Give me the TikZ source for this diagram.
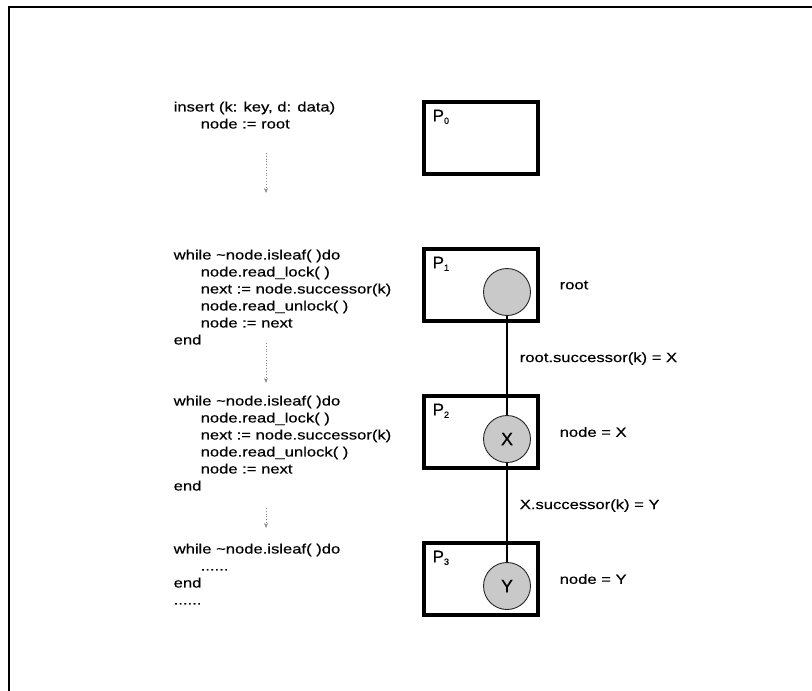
\documentclass[tikz,border=0pt]{standalone}
\usepackage{fontspec}
\setmainfont{Liberation Sans}[FakeStretch=1.23, FakeBold=0.4]
\newfontfamily\plainsans{Liberation Sans}[FakeBold=0.6]
\usetikzlibrary{arrows.meta, positioning, calc}
\definecolor{cstip}{gray}{0.79}
\definecolor{cdot}{gray}{0.55}
\newcommand{\ind}{\hspace*{27pt}}
\tikzset{
  every picture/.style={x=1pt, y=-1pt, line width=1.4pt},
  pbox/.style={draw, line width=4pt, minimum width=114pt, minimum height=72pt, inner sep=0pt},
  plabel/.style={font=\plainsans\fontsize{17}{17}\selectfont, inner sep=0pt, anchor=north west},
  vertex/.style={circle, draw=black!85, line width=0.9pt, fill=cstip, minimum size=47pt, inner sep=0pt, font=\plainsans\fontsize{18}{18}\selectfont},
  link/.style={draw, line width=1.6pt},
  code/.style={font=\fontsize{13.5}{17}\selectfont, align=left, inner sep=0pt, anchor=north west},
  note/.style={font=\fontsize{13.5}{17}\selectfont, inner sep=0pt},
  flow/.style={draw=cdot, dotted, line width=0.8pt, -{Stealth[length=5pt, width=4pt]}},
}

\begin{document}
\begin{tikzpicture}
  \useasboundingbox (0,0) rectangle (812,691);
  % frame
  \draw[line width=2pt] (9,691) -- (9,7) -- (812,7);
  % processor boxes
  \foreach \k/\y in {0/138, 1/285, 2/432, 3/579} \node[pbox] (p\k) at (481,\y) {};
  \foreach \k in {0,...,3} \node[plabel] (lbl\k) at ($(p\k.north west)+(10,9)$) {P{\fontsize{9}{9}\selectfont\raisebox{-2.5pt}{\k}}};
  % tree nodes
  \node[vertex] (c1) at ($(p1.center)+(26,7)$) {};
  \node[vertex] (c2) at ($(p2.center)+(26,7)$) {X};
  \node[vertex] (c3) at ($(p3.center)+(26,7)$) {Y};
  \draw[link] (c1) -- node[note, right=12pt, pos=0.43] (s1) {root.successor(k) = X} (c2);
  \draw[link] (c2) -- node[note, right=12pt, pos=0.43] (s2) {X.successor(k) = Y} (c3);
  \node[note, right=19pt of p1] (r1) {root};
  \node[note, right=19pt of p2] (r2) {node = X};
  \node[note, right=19pt of p3] (r3) {node = Y};
  % code
  \node[code] (b0) at (173,101) {insert (k: key, d: data)\\\ind node := root};
  \node[code] (b1) at (173,249) {while \textasciitilde node.isleaf( )do\\\ind node.read\_lock( )\\\ind next := node.successor(k)\\\ind node.read\_unlock( )\\\ind node := next\\end};
  \node[code] (b2) at (173,395) {while \textasciitilde node.isleaf( )do\\\ind node.read\_lock( )\\\ind next := node.successor(k)\\\ind node.read\_unlock( )\\\ind node := next\\end};
  \node[code] (b3) at (173,543) {while \textasciitilde node.isleaf( )do\\\ind ......\\end\\......};
  % control flow
  \coordinate (a0) at (266,153); \coordinate (a1) at (266,193);
  \coordinate (a2) at (266,343); \coordinate (a3) at (266,383);
  \coordinate (a4) at (266,508); \coordinate (a5) at (266,528);
  \draw[flow] (a0) -- (a1);
  \draw[flow] (a2) -- (a3);
  \draw[flow] (a4) -- (a5);
\end{tikzpicture}
\end{document}
